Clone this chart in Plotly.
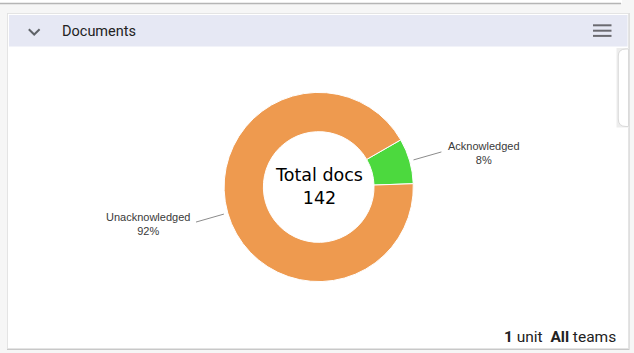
import math
import plotly.graph_objects as go

# ---- data ----
labels = ["Acknowledged", "Unacknowledged"]
values = [11, 131]
colors = ["#4CD93E", "#EE9A4F"]
title = "Documents"
center_title = "Total docs"
footer_parts = [("1", " unit"), ("All", " teams")]

W, H = 634, 353
total = sum(values)

def px(x):
    return x / W

def py(y):
    return 1 - y / H

# pie geometry (pixels)
CX, CY, R = 318.7, 187.0, 94.6
HOLE = 0.585
START = 2.0  # degrees ccw from 3 o'clock where first slice begins
# plotly: with counterclockwise direction the first slice lies clockwise of `rotation`
ROT = 90 - START - 360 * values[0] / total

fig = go.Figure()
fig.add_trace(go.Pie(
    labels=labels, values=values, hole=HOLE, sort=False,
    direction="counterclockwise", rotation=ROT,
    marker=dict(colors=colors, line=dict(color="#FFFFFF", width=1)),
    textinfo="none", hoverinfo="label+percent", showlegend=False,
    domain=dict(x=[px(CX - R), px(CX + R)], y=[py(CY + R), py(CY - R)]),
))

shapes = []
# top card remnant
shapes.append(dict(type="rect", xref="paper", yref="paper", x0=px(0), x1=px(622), y0=py(3), y1=py(0),
                   fillcolor="#FFFFFF", line=dict(width=0), layer="below"))
shapes.append(dict(type="line", xref="paper", yref="paper", x0=px(0), x1=px(621), y0=py(3.5), y1=py(3.5),
                   line=dict(color="#B5B5B5", width=1.5), layer="below"))
# card shadow + card
shapes.append(dict(type="rect", xref="paper", yref="paper", x0=px(7), x1=px(629.5), y0=py(350), y1=py(13),
                   fillcolor="#C8C8C8", line=dict(width=0), layer="below"))
shapes.append(dict(type="rect", xref="paper", yref="paper", x0=px(7.5), x1=px(628.5), y0=py(348.5), y1=py(13.5),
                   fillcolor="#FFFFFF", line=dict(color="#E4E4E4", width=1), layer="below"))
# header band
shapes.append(dict(type="rect", xref="paper", yref="paper", x0=px(9), x1=px(627.5), y0=py(46.5), y1=py(15),
                   fillcolor="#E6E8F4", line=dict(width=0), layer="below"))
# chevron
shapes.append(dict(type="path", xref="paper", yref="paper",
                   path="M {:.5f},{:.5f} L {:.5f},{:.5f} L {:.5f},{:.5f}".format(px(28.8), py(29.3), px(34.2), py(34.5), px(39.6), py(29.3)),
                   line=dict(color="#5F6368", width=2)))
# hamburger
for yy in (25.3, 30.7, 35.9):
    shapes.append(dict(type="line", xref="paper", yref="paper", x0=px(593), x1=px(611.5), y0=py(yy), y1=py(yy),
                       line=dict(color="#6A6A70", width=2)))
# right side floating element
shapes.append(dict(type="rect", xref="paper", yref="paper", x0=px(616.5), x1=px(629), y0=py(127.5), y1=py(48),
                   fillcolor="#EDEDED", line=dict(width=0), layer="below"))
shapes.append(dict(type="path", xref="paper", yref="paper",
                   path=("M {a},{b} L {c},{b} L {c},{d} L {a},{d} Q {e},{d} {e},{f} L {e},{g} Q {e},{b} {a},{b} Z").format(
                       a=px(626), b=py(49), c=px(628.5), d=py(126.5), e=px(618.3), f=py(119), g=py(56)),
                   fillcolor="#FFFFFF", line=dict(color="#DADADA", width=1)))

annotations = []
# leader lines and labels computed from slice angles
cum = 0.0
for lab, v in zip(labels, values):
    frac = v / total
    mid = START + (cum + frac / 2) * 360
    cum += frac
    a = math.radians(mid)
    dx, dy = math.cos(a), -math.sin(a)
    x0, y0 = CX + (R + 4) * dx, CY + (R + 4) * dy
    x1, y1 = CX + (R + 33) * dx, CY + (R + 33) * dy
    shapes.append(dict(type="line", xref="paper", yref="paper", x0=px(x0), y0=py(y0), x1=px(x1), y1=py(y1),
                       line=dict(color="#8C8C8C", width=1)))
    right = dx >= 0
    annotations.append(dict(
        x=px(x1 + (5 if right else -4)), y=py(y1 + 1.5), xref="paper", yref="paper",
        xanchor="left" if right else "right", yanchor="middle", align="center", showarrow=False,
        text="{}<br>{}%".format(lab, round(frac * 100)),
        font=dict(family="Liberation Sans, Arial", size=11, color="#3A3A3A")))

# center text
annotations.append(dict(x=px(CX), y=py(CY - 1), xref="paper", yref="paper", showarrow=False,
                        xanchor="center", yanchor="middle", align="center",
                        text="{}<br>{}".format(center_title, total),
                        font=dict(family="DejaVu Sans", size=17.5, color="#000000")))
# header title
annotations.append(dict(x=px(59.5), y=py(31), xref="paper", yref="paper", showarrow=False,
                        xanchor="left", yanchor="middle", text=title,
                        font=dict(family="Roboto", size=14.5, color="#222222")))
# footer
footer = "  ".join("<b>{}</b>{}".format(b, r) for b, r in footer_parts)
annotations.append(dict(x=px(618), y=py(337), xref="paper", yref="paper", showarrow=False,
                        xanchor="right", yanchor="middle", text=footer,
                        font=dict(family="Roboto", size=15.5, color="#222222")))

fig.update_layout(
    width=W, height=H, margin=dict(l=0, r=0, t=0, b=0),
    paper_bgcolor="#F6F6F6", plot_bgcolor="#FFFFFF",
    shapes=shapes, annotations=annotations, showlegend=False,
)
fig.write_html("out.html", config={"displayModeBar": False})
